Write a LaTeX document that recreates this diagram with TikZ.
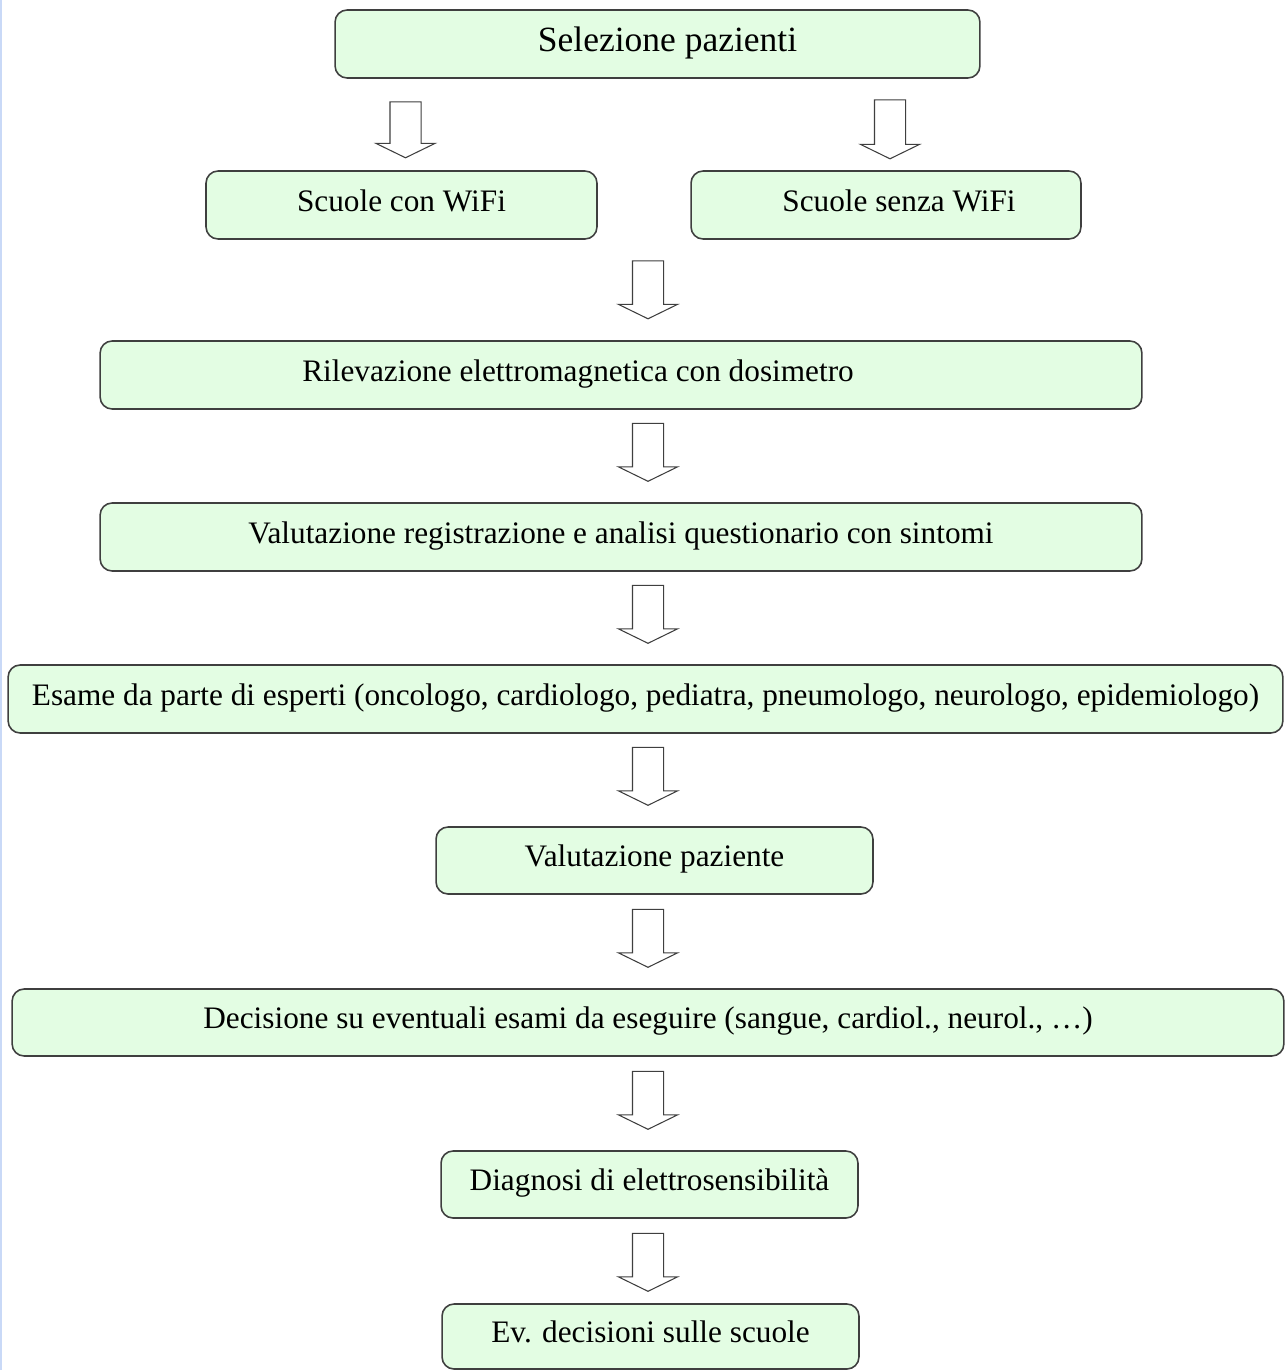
\documentclass[tikz,border=0pt]{standalone}
\usepackage{fontspec}
\setmainfont{Liberation Serif}
\usetikzlibrary{shapes.arrows}
\definecolor{boxfill}{HTML}{E3FDE3}
\definecolor{boxline}{HTML}{3F3F3F}
\definecolor{edgeblue}{HTML}{C9D9F7}

\begin{document}
\begin{tikzpicture}[x=0.02cm, y=-0.02cm,
		stepbox/.style={draw=boxline, line width=0.9pt, fill=boxfill, rounded corners=0.24cm,
			inner sep=0pt, minimum height=1.36cm, text height=0.9em, text depth=0.2em,
			font=\fontsize{17.8}{20}\selectfont},
		downarrow/.style={draw=boxline, line width=0.6pt, fill=white, single arrow,
			shape border rotate=270, inner sep=0pt, text width=0.6cm, text height=0.6cm, text depth=0pt,
			minimum height=1.16cm, minimum width=1.18cm,
			single arrow head extend=0.28cm, single arrow tip angle=128}]
	\useasboundingbox (0,0) rectangle (1285,1370);
	\draw[edgeblue, line width=1.1pt] (1,0) -- (1,1370);

	\node[stepbox, minimum width=12.9cm, text height=1.05em, font=\fontsize{20.2}{24}\selectfont] (sel) at (657.5,44) {\hspace*{0.4cm}Selezione pazienti};
	\node[stepbox, minimum width=7.82cm] (wifi) at (401.5,205) {Scuole con WiFi};
	\node[stepbox, minimum width=7.8cm] (nowifi) at (886,205) {\hspace*{0.52cm}Scuole senza WiFi};
	\node[stepbox, minimum width=20.84cm] (ril) at (621,375) {Rilevazione elettromagnetica con dosimetro\hspace*{1.72cm}};
	\node[stepbox, minimum width=20.84cm] (valreg) at (621,537) {Valutazione registrazione e analisi questionario con sintomi};
	\node[stepbox, minimum width=25.5cm] (esame) at (645.5,699) {Esame da parte di esperti (oncologo, cardiologo, pediatra, pneumologo, neurologo, epidemiologo)};
	\node[stepbox, minimum width=8.74cm, minimum height=1.34cm] (valpaz) at (654.5,860.5) {Valutazione paziente};
	\node[stepbox, minimum width=25.44cm, minimum height=1.34cm] (dec) at (648,1022.5) {Decisione su eventuali esami da eseguire (sangue, cardiol., neurol., \dots)};
	\node[stepbox, minimum width=8.34cm, minimum height=1.34cm] (diag) at (649.5,1184.5) {Diagnosi di elettrosensibilità};
	\node[stepbox, minimum width=8.34cm, minimum height=1.3cm] (ev) at (650.5,1336.5) {Ev. decisioni sulle scuole};

	\node[downarrow, minimum height=1.12cm] (a1) at (405.5,126) {};
	\node[downarrow, minimum height=1.18cm] (a2) at (890,125.5) {};
	\node[downarrow] (a3) at (648,286) {};
	\node[downarrow] (a4) at (648,448.5) {};
	\node[downarrow] (a5) at (648,610.5) {};
	\node[downarrow] (a6) at (648,772.5) {};
	\node[downarrow] (a7) at (648,934.5) {};
	\node[downarrow] (a8) at (648,1096.5) {};
	\node[downarrow] (a9) at (648,1258.5) {};
\end{tikzpicture}
\end{document}
